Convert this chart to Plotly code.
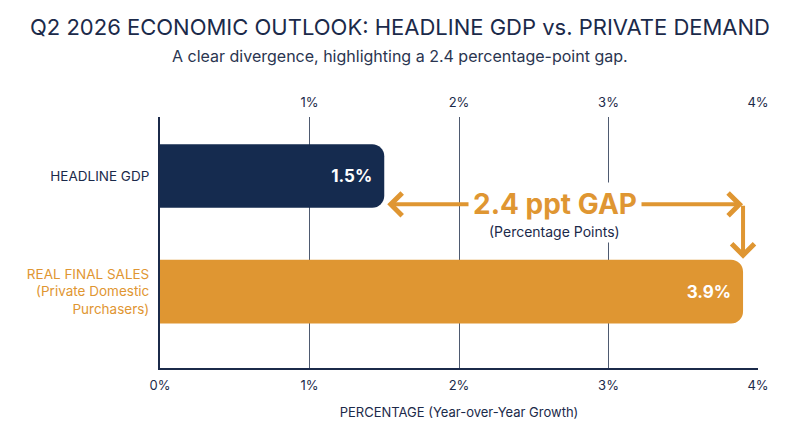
import plotly.graph_objects as go

# Datos del gráfico
categorias = ['REAL FINAL SALES<br>(Private Domestic<br>Purchasers)', 'HEADLINE GDP']
valores = [3.9, 1.5]
colores_barras = ['#DF9632', '#152B4F']
colores_etiquetas = ['#DF9632', '#1B2A4A']
ticks_abajo = [0, 1, 2, 3, 4]
ticks_arriba = [1, 2, 3, 4]

NAVY = '#1B2A4A'
ORANGE = '#DF9632'
FUENTE = 'Inter'

ANCHO, ALTO = 800, 447
MARGEN = dict(l=160, r=42, t=117, b=79)

gap = round(valores[0] - valores[1], 1)
medio = (valores[0] + valores[1]) / 2 - 0.06
y_flecha = 0.755
ancho_barra = 0.55

fig = go.Figure()

fig.add_trace(go.Bar(
    x=valores,
    y=[0, 1],
    orientation='h',
    width=ancho_barra,
    marker=dict(color=colores_barras, cornerradius=12, line=dict(width=0)),
    text=[f'{v:.1f}%' for v in valores],
    textposition='inside',
    insidetextanchor='end',
    textfont=dict(family=FUENTE, size=17, color='white', weight='bold'),
    cliponaxis=False,
    showlegend=False,
    hoverinfo='skip'
))

# Eje superior (solo etiquetas)
fig.add_trace(go.Scatter(
    x=ticks_arriba, y=[0] * len(ticks_arriba), xaxis='x2',
    mode='markers', marker=dict(opacity=0), showlegend=False, hoverinfo='skip'
))

ticktext = [f'<span style="color:{c}">{t}</span>' for t, c in zip(categorias, colores_etiquetas)]

fig.update_layout(
    width=ANCHO, height=ALTO,
    paper_bgcolor='white', plot_bgcolor='white',
    margin=MARGEN,
    font=dict(family=FUENTE, color=NAVY),
    title=dict(
        text='Q2 2026 ECONOMIC OUTLOOK: HEADLINE GDP vs. PRIVATE DEMAND',
        x=0.5, xanchor='center', y=0.94, yanchor='middle',
        font=dict(family=FUENTE, size=22, color=NAVY, weight=400)
    ),
    xaxis=dict(
        range=[0, 4], tickvals=ticks_abajo, ticktext=[f'{t}%' for t in ticks_abajo],
        showgrid=True, gridcolor='#4E5A70', gridwidth=1, zeroline=False,
        showline=True, linecolor=NAVY, linewidth=2, ticks='', ticklabelstandoff=4,
        tickfont=dict(size=13, color=NAVY),
        title=dict(text='PERCENTAGE (Year-over-Year Growth)', font=dict(size=13, color=NAVY), standoff=16),
        fixedrange=True
    ),
    xaxis2=dict(
        overlaying='x', side='top', matches='x', range=[0, 4],
        tickvals=ticks_arriba, ticktext=[f'{t}%' for t in ticks_arriba],
        showgrid=False, showline=False, zeroline=False, ticks='', ticklabelstandoff=6,
        tickfont=dict(size=13, color=NAVY)
    ),
    yaxis=dict(
        range=[-0.66, 1.51], tickvals=[0, 1], ticktext=ticktext,
        showgrid=False, zeroline=False, showline=True, linecolor=NAVY, linewidth=2,
        ticks='', ticklabelstandoff=6, tickfont=dict(size=13.5)
    ),
    bargap=0.4
)

# Subtítulo, centrado en la página
ancho_plot = ANCHO - MARGEN['l'] - MARGEN['r']
fig.add_annotation(
    text='A clear divergence, highlighting a 2.4 percentage-point gap.',
    xref='paper', yref='paper', x=(ANCHO / 2 - MARGEN['l']) / ancho_plot, y=1.0, yshift=61,
    showarrow=False, font=dict(size=16, color='#2A3550'), xanchor='center', yanchor='middle'
)

# Flechas del gap
flecha = dict(xref='x', yref='y', axref='x', ayref='y', text='', showarrow=True,
              arrowhead=4, arrowsize=1.1, arrowwidth=4, arrowcolor=ORANGE)
fig.add_annotation(x=valores[1] + 0.02, y=y_flecha, ax=medio, ay=y_flecha, **flecha)
fig.add_annotation(x=valores[0], y=y_flecha, ax=medio, ay=y_flecha, **flecha)
fig.add_annotation(x=valores[0], y=ancho_barra / 2 + 0.01, ax=valores[0], ay=y_flecha, **flecha)

fig.add_annotation(
    text=f'<b>{gap} ppt GAP</b>', x=medio, y=y_flecha, xref='x', yref='y',
    showarrow=False, bgcolor='white', borderpad=4,
    font=dict(size=28, color=ORANGE), xanchor='center', yanchor='middle'
)
fig.add_annotation(
    text='(Percentage Points)', x=medio, y=y_flecha, yshift=-27, xref='x', yref='y',
    showarrow=False, bgcolor='white', borderpad=2,
    font=dict(size=14, color=NAVY), xanchor='center', yanchor='middle'
)

fig.write_html('out.html', config={'displayModeBar': False},
               post_script="document.body.style.margin='0';")
